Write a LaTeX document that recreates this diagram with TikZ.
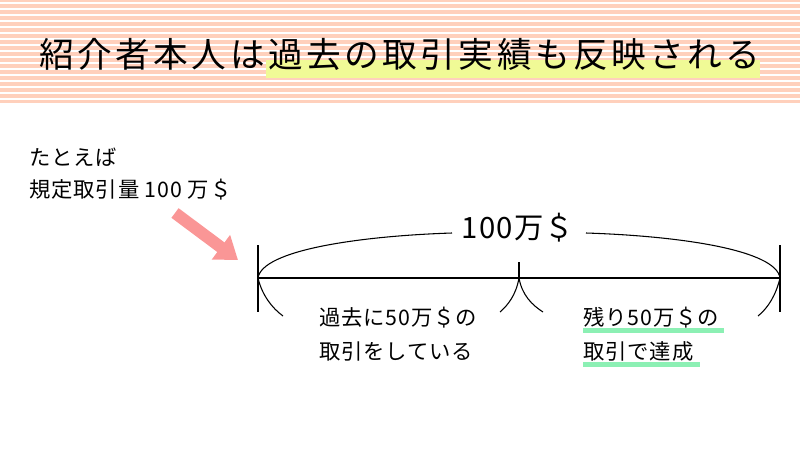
\documentclass[tikz,border=0pt]{standalone}
\usepackage{fontspec}
\setmainfont{Noto Sans CJK JP}
\usetikzlibrary{arrows.meta}
\definecolor{headpink}{RGB}{255,208,188}
\definecolor{marker}{RGB}{240,250,150}
\definecolor{mint}{RGB}{140,240,180}
\definecolor{arrowpink}{RGB}{250,150,150}
\tikzset{
	label/.style={anchor=west,inner sep=0.75pt,font=\fontsize{16}{19}\selectfont\addfontfeatures{LetterSpace=4}},
	brace/.style={line width=0.8pt}
}
\begin{document}
\begin{tikzpicture}[x=0.75pt,y=0.75pt,yscale=-1,xscale=1]
	\useasboundingbox (0,0) rectangle (800,450);
	% header
	\fill [headpink] (0,0) rectangle (800,103);
	\foreach \y in {3,9,...,102}
		\draw [white,line width=0.8pt] (0,\y) -- (800,\y);
	\fill [marker] (266,60) rectangle (760,78);
	\node (title) at (400,54) [inner sep=0pt,font=\fontsize{26}{30}\selectfont\addfontfeatures{LetterSpace=10}] {紹介者本人は過去の取引実績も反映される};
	% example amount
	\node (ex1) at (28,157) [label] {たとえば};
	\node (ex2) at (28,190) [label] {規定取引量 100 万＄};
	\coordinate (tail) at (175,213);
	\coordinate (tip) at (238,260);
	\draw [arrowpink,line width=9pt,-{Triangle[length=16pt,width=22pt]}] (tail) -- (tip);
	% bar
	\coordinate (L) at (258,278);
	\coordinate (M) at (519,278);
	\coordinate (R) at (780,278);
	\draw [brace] (L) -- (R);
	\draw [brace] (258,245) -- (258,312);
	\draw [brace] (780,245) -- (780,312);
	\draw [brace] (519,262) -- (M);
	\node (total) at (518,228) [inner sep=0.75pt,font=\fontsize{22}{26}\selectfont\addfontfeatures{LetterSpace=4}] {100万＄};
	\draw [brace] (L) .. controls (262,250) and (360,236) .. (452,233);
	\draw [brace] (586,233) .. controls (680,236) and (776,250) .. (R);
	\draw [brace] (L) .. controls (262,295) and (272,308) .. (283,316);
	\draw [brace] (M) .. controls (516,295) and (508,305) .. (500,312);
	\draw [brace] (M) .. controls (522,295) and (532,305) .. (543,312);
	\draw [brace] (R) .. controls (776,295) and (768,308) .. (758,316);
	% parts
	\fill [mint] (583,328) rectangle (724,333);
	\fill [mint] (583,362) rectangle (700,367);
	\node (past1) at (318,318) [label] {過去に50万＄の};
	\node (past2) at (318,351) [label] {取引をしている};
	\node (rest1) at (582,318) [label] {残り50万＄の};
	\node (rest2) at (582,351) [label] {取引で達成};
\end{tikzpicture}
\end{document}
